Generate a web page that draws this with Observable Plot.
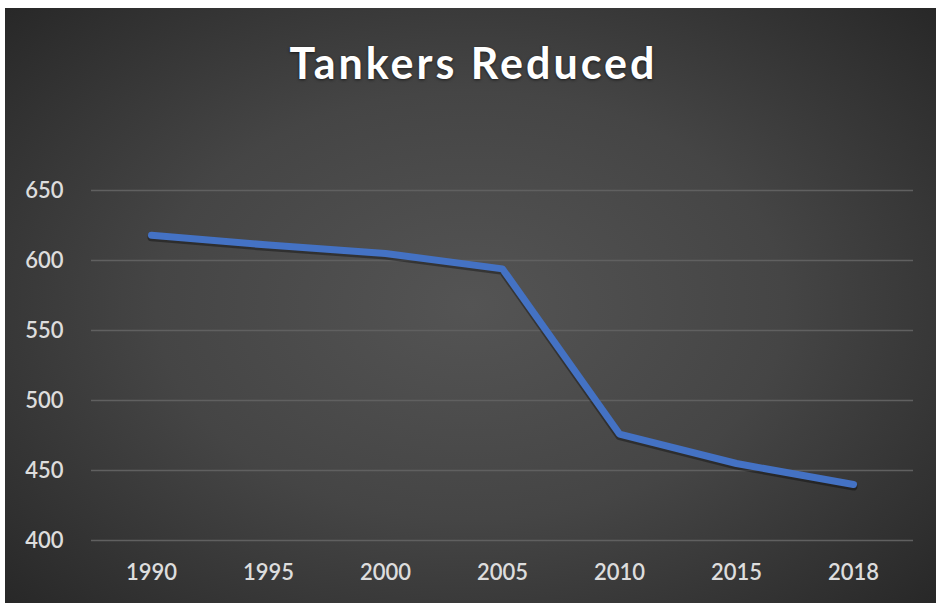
<!DOCTYPE html>
<html>
<head>
<meta charset="utf-8">
<script src="https://cdn.jsdelivr.net/npm/d3@7"></script>
<script src="https://cdn.jsdelivr.net/npm/@observablehq/plot@0.6"></script>
<style>
  html, body { margin: 0; padding: 0; background: #ffffff; }
  #frame {
    position: absolute; left: 5px; top: 8px; width: 931px; height: 595px;
    background: radial-gradient(ellipse 75% 80% at 50% 50%, #545454 0%, #454545 45%, #2f2f2f 80%, #222222 100%);
    overflow: hidden;
  }
  #title {
    height: 110px; line-height: 110px; text-align: center;
    font-family: Lato, "Open Sans", sans-serif; font-weight: 700;
    font-size: 43px; letter-spacing: 3px; color: #ffffff;
    text-shadow: 0 1px 3px rgba(0,0,0,0.6);
    padding-left: 6px;
  }
  #chart svg { display: block; }
</style>
</head>
<body>
<div id="frame">
  <div id="title">Tankers Reduced</div>
  <div id="chart"></div>
</div>
<script>
const years = ["1990", "1995", "2000", "2005", "2010", "2015", "2018"];
const tankers = [618, 611, 605, 594, 476, 455, 440];
const yTicks = [400, 450, 500, 550, 600, 650];

const data = years.map((y, i) => ({year: y, value: tankers[i]}));

const plot = Plot.plot({
  width: 931,
  height: 485,
  marginTop: 72,
  marginBottom: 63,
  marginLeft: 86,
  marginRight: 23,
  style: {
    background: "transparent",
    color: "#d9d9d9",
    fontFamily: "Lato, 'Open Sans', sans-serif",
    fontSize: "22px",
    fontWeight: 600,
    overflow: "visible"
  },
  x: {type: "point", domain: years, padding: 0.5, label: null},
  y: {domain: [400, 650], label: null},
  marks: [
    Plot.ruleY(yTicks, {stroke: "#606060", strokeWidth: 1.5}),
    Plot.axisY({ticks: yTicks, tickSize: 0, tickPadding: 28, label: null, fill: "#dddddd", fontSize: 22, fontWeight: 600}),
    Plot.axisX({tickSize: 0, tickPadding: 24, label: null, fill: "#dddddd", fontSize: 22, fontWeight: 600}),
    Plot.line(data, {x: "year", y: "value", stroke: "#000", strokeOpacity: 0.35, strokeWidth: 8, dy: 2, strokeLinejoin: "round", strokeLinecap: "round"}),
    Plot.line(data, {x: "year", y: "value", stroke: "#4472C4", strokeWidth: 7, strokeLinejoin: "round", strokeLinecap: "round"})
  ]
});
document.getElementById("chart").appendChild(plot);
</script>
</body>
</html>
